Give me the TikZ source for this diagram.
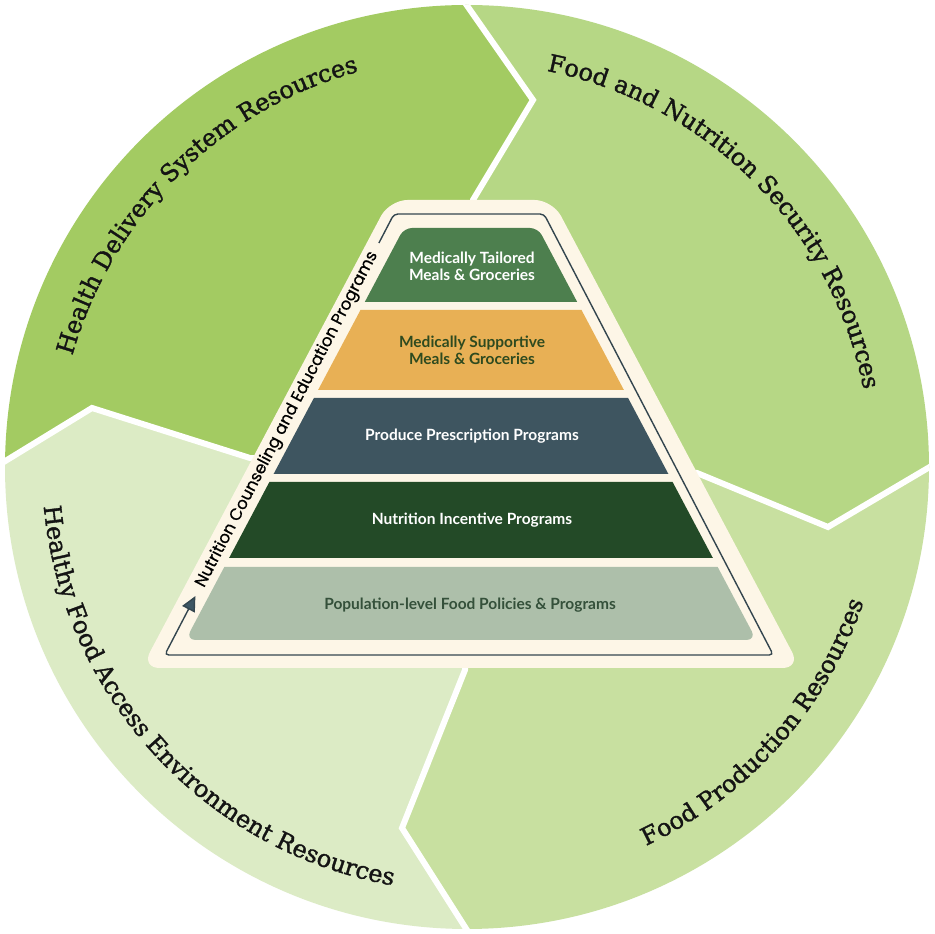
\documentclass[tikz,border=0pt]{standalone}
\usepackage{fontspec}
\setmainfont{Lato}
\newfontfamily\slab{DejaVu Serif}[FakeBold=1.4]
\newfontfamily\geo{Poppins}[FakeBold=0.6]
\usetikzlibrary{decorations.text,arrows.meta}
\definecolor{segTLc}{HTML}{A3CB62}
\definecolor{segTRc}{HTML}{B6D785}
\definecolor{segBRc}{HTML}{C8E0A0}
\definecolor{segBLc}{HTML}{DCEBC5}
\definecolor{creamc}{HTML}{FDF6E7}
\definecolor{tierA}{HTML}{4D7F4E}
\definecolor{tierB}{HTML}{E8B055}
\definecolor{tierC}{HTML}{3E5560}
\definecolor{tierD}{HTML}{234A27}
\definecolor{tierE}{HTML}{ADBFAA}
\definecolor{txtB}{HTML}{2E4A1F}
\definecolor{txtE}{HTML}{34503A}
\definecolor{linec}{HTML}{34464F}
\definecolor{arrowc}{HTML}{3D5663}
\definecolor{labc}{HTML}{141414}
\begin{document}
\begin{tikzpicture}[x=1pt,y=1pt,
  bound/.style={line width=6pt, white, line join=miter},
  tierlabel/.style={font=\fontsize{15.5}{17}\selectfont\bfseries, align=center, inner sep=0pt},
  pline/.style={draw=linec, line width=1.4pt, rounded corners=4pt},
  outerlab/.style={decorate, decoration={text along path, text align=center, text={#1}}}]
\useasboundingbox (0,0) rectangle (935,934);
\fill[white] (0,0) rectangle (935,934);
\coordinate (C) at (470,470);
\coordinate (Tx) at (403,1020); \coordinate (To) at (468,927); \coordinate (Tt) at (533,834); \coordinate (Ti) at (473,734);
\coordinate (Rx) at (1028,525); \coordinate (Ro) at (928,466); \coordinate (Rt) at (828,407); \coordinate (Ri) at (697,461);
\coordinate (Bx) at (528,-92); \coordinate (Bo) at (465,7); \coordinate (Bt) at (402,106); \coordinate (Bi) at (465,264);
\coordinate (Lx) at (-78,422); \coordinate (Lo) at (7,474); \coordinate (Lt) at (92,526); \coordinate (Li) at (250,476);
\begin{scope}
\clip (467,467) circle[radius=462pt];
\fill[segTLc] (C) -- (Li) -- (Lt) -- (Lo) -- (Lx) -- (-120,422) -- (-120,1060) -- (403,1060) -- (Tx) -- (To) -- (Tt) -- (Ti) -- cycle;
\fill[segTRc] (C) -- (Ti) -- (Tt) -- (To) -- (Tx) -- (403,1060) -- (1060,1060) -- (1060,525) -- (Rx) -- (Ro) -- (Rt) -- (Ri) -- cycle;
\fill[segBRc] (C) -- (Ri) -- (Rt) -- (Ro) -- (Rx) -- (1060,525) -- (1060,-120) -- (528,-120) -- (Bx) -- (Bo) -- (Bt) -- (Bi) -- cycle;
\fill[segBLc] (C) -- (Bi) -- (Bt) -- (Bo) -- (Bx) -- (528,-120) -- (-120,-120) -- (-120,422) -- (Lx) -- (Lo) -- (Lt) -- (Li) -- cycle;
\draw[bound] (Tx) -- (To) -- (Tt) -- (Ti) -- (C);
\draw[bound] (Rx) -- (Ro) -- (Rt) -- (Ri) -- (C);
\draw[bound] (Bx) -- (Bo) -- (Bt) -- (Bi) -- (C);
\draw[bound] (Lx) -- (Lo) -- (Lt) -- (Li) -- (C);
\end{scope}
% outer labels
\path[outerlab={|\slab\fontsize{24}{28}\selectfont\color{labc}|Health Delivery System Resources}]
  ([shift={(194.8:410pt)}]467,467) arc[start angle=194.8, end angle=74.8, radius=410pt];
\path[outerlab={|\slab\fontsize{24}{28}\selectfont\color{labc}|Food and Nutrition Security Resources}]
  ([shift={(104.8:404pt)}]467,467) arc[start angle=104.8, end angle=-15.2, radius=404pt];
\path[outerlab={|\slab\fontsize{24}{28}\selectfont\color{labc}|Food Production Resources}]
  ([shift={(-101.75:419pt)}]467,467) arc[start angle=-101.75, end angle=18.25, radius=419pt];
\path[outerlab={|\slab\fontsize{24}{28}\selectfont\color{labc}|Healthy Food Access Environment Resources}]
  ([shift={(162.65:425pt)}]467,467) arc[start angle=162.65, end angle=282.65, radius=425pt];
% pyramid
\fill[creamc, rounded corners=18pt] (141.5,266) -- (389.5,734) -- (552.5,734) -- (800.5,266) -- cycle;
\fill[tierA] (364.8,632) [rounded corners=8pt] -- (404,706) -- (538,706) [sharp corners] -- (577.2,632) -- cycle;
\fill[tierB] (360.5,624) -- (581.5,624) -- (623.9,544) -- (318.1,544) -- cycle;
\fill[tierC] (313.9,536) -- (628.1,536) -- (668.4,460) -- (273.6,460) -- cycle;
\fill[tierD] (269.4,452) -- (672.6,452) -- (712.9,376) -- (229.1,376) -- cycle;
\fill[tierE] (224.3,367) -- (717.7,367) [rounded corners=10pt] -- (756.4,294) -- (185.6,294) [sharp corners] -- cycle;
\node[tierlabel, text=white] (mtm) at (472,668) {Medically Tailored\\Meals \& Groceries};
\node[tierlabel, text=txtB] (msm) at (472,584) {Medically Supportive\\Meals \& Groceries};
\node[tierlabel, text=white] (ppp) at (472,498) {Produce Prescription Programs};
\node[tierlabel, text=white] (nip) at (472,414) {Nutrition Incentive Programs};
\node[tierlabel, text=txtE] (pfp) at (470,329) {Population-level Food Policies \& Programs};
% surrounding line
\coordinate (La) at (378.9,691); \coordinate (Lb) at (394,720); \coordinate (Lc) at (544,720);
\coordinate (Ld) at (773.3,279); \coordinate (Le) at (164.7,279); \coordinate (Lf) at (195.4,338);
\draw[pline, -{Triangle[length=15pt,width=14pt,fill=arrowc]}] (La) -- (Lb) -- (Lc) -- (Ld) -- (Le) -- (Lf);
\node[font=\geo\fontsize{16.5}{16.5}\selectfont, rotate=62.53, inner sep=0pt] (nce) at (287.2,514.5) {Nutrition Counseling and Education Programs};
\end{tikzpicture}
\end{document}
